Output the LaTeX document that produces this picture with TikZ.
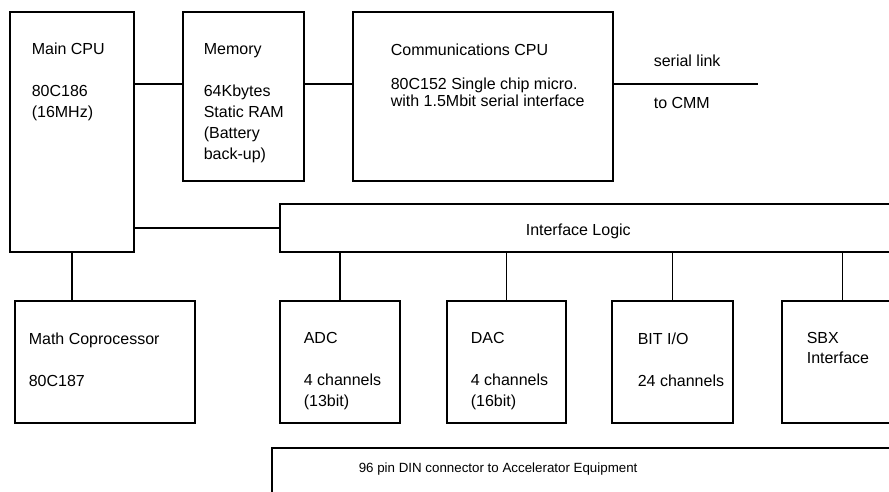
\documentclass[tikz,border=0pt]{standalone}
\usepackage{fontspec}
\setmainfont{Liberation Sans}

\tikzset{every picture/.style={line width=1.2pt}}
\tikzset{
  blk/.style={draw, anchor=north west, inner sep=0pt, outer sep=0pt},
  lbl/.style={anchor=north west, inner sep=0pt, align=left, font=\fontsize{12}{15.75}\selectfont},
}

\begin{document}
\begin{tikzpicture}[x=0.75pt,y=0.75pt,yscale=-1,xscale=1]
\useasboundingbox (0,0) rectangle (889,492);

%Shape: Rectangle [Main CPU]
\node [blk, minimum width=93pt, minimum height=180pt] (cpu) at (10,12) {};
%Shape: Rectangle [Memory]
\node [blk, minimum width=90.75pt, minimum height=126.75pt] (mem) at (183,12) {};
%Shape: Rectangle [Communications CPU]
\node [blk, minimum width=195pt, minimum height=126.75pt] (comm) at (353,12) {};
%Shape: Rectangle [Interface Logic]
\node [blk, minimum width=472.5pt, minimum height=36pt] (iface) at (280,204) {};
%Shape: Rectangle [Math Coprocessor]
\node [blk, minimum width=135pt, minimum height=91.5pt] (math) at (15,301) {};
%Shape: Rectangle [ADC]
\node [blk, minimum width=90pt, minimum height=91.5pt] (adc) at (280,301) {};
%Shape: Rectangle [DAC]
\node [blk, minimum width=89.25pt, minimum height=91.5pt] (dac) at (447,301) {};
%Shape: Rectangle [BIT I/O]
\node [blk, minimum width=90.75pt, minimum height=91.5pt] (bitio) at (612,301) {};
%Shape: Rectangle [SBX]
\node [blk, minimum width=90.75pt, minimum height=91.5pt] (sbx) at (782,301) {};
%Shape: Rectangle [DIN connector]
\node [blk, minimum width=480pt, minimum height=45pt] (din) at (272,448) {};

% Text Node
\node [lbl] (cpu-t) at (31,42) {Main CPU\\[15.75pt]80C186\\(16MHz)};
% Text Node
\node [lbl] (mem-t) at (203,43) {Memory\\[15.75pt]64Kbytes\\Static RAM\\(Battery\\back-up)};
% Text Node
\node [lbl, font=\fontsize{12}{12.75}\selectfont] (comm-t) at (390,43) {Communications CPU\\[12.75pt]80C152 Single chip micro.\\with 1.5Mbit serial interface};
% Text Node
\node [lbl] (link-t) at (653,54) {serial link};
% Text Node
\node [lbl] (cmm-t) at (653,97) {to CMM};
% Text Node
\node [lbl] (iface-t) at (525,223) {Interface Logic};
% Text Node
\node [lbl] (math-t) at (28,332) {Math Coprocessor\\[15.75pt]80C187};
% Text Node
\node [lbl] (adc-t) at (303,332) {ADC\\[15.75pt]4 channels\\(13bit)};
% Text Node
\node [lbl] (dac-t) at (470,332) {DAC\\[15.75pt]4 channels\\(16bit)};
% Text Node
\node [lbl] (bitio-t) at (637,332) {BIT I/O\\[15.75pt]24 channels};
% Text Node
\node [lbl, font=\fontsize{12}{15}\selectfont] (sbx-t) at (806,332) {SBX\\Interface};
% Text Node
\node [lbl, font=\fontsize{10}{12}\selectfont] (din-t) at (358,462) {96 pin DIN connector to Accelerator Equipment};

\coordinate (bus) at (0,84);
\coordinate (link) at (758,84);

% Connection
\draw (cpu.east |- bus) -- (mem.west |- bus);
% Connection
\draw (mem.east |- bus) -- (comm.west |- bus);
% Connection
\draw (comm.east |- bus) -- (link);
% Connection
\draw (cpu.east |- iface.west) -- (iface.west);
% Connection
\draw (cpu.south) -- (cpu.south |- math.north);
% Connection
\foreach \n in {adc,dac,bitio,sbx}
  \draw (\n.north |- iface.south) -- (\n.north);

\end{tikzpicture}
\end{document}
